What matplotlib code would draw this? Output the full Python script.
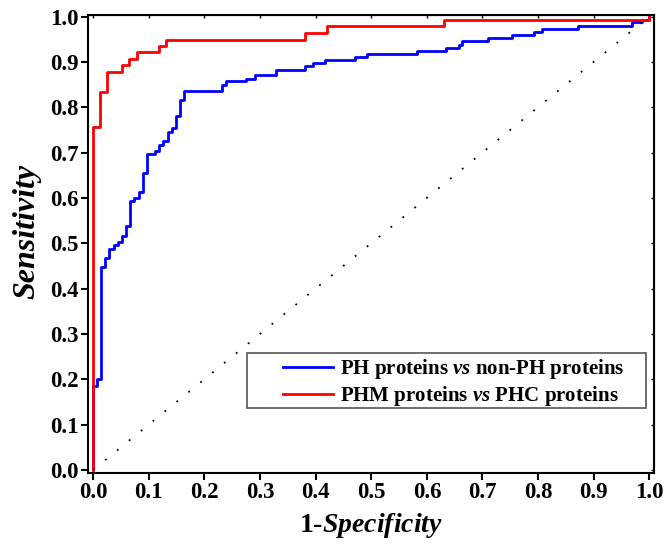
# -*- coding: utf-8 -*-
"""
ROC curves: PH vs non-PH, PHM vs PHC
"""
import matplotlib
matplotlib.use('Agg')
import matplotlib.pyplot as plt
from matplotlib.patches import Rectangle

plt.rcParams['font.family'] = 'Liberation Serif'
plt.rcParams['font.weight'] = 'bold'
plt.rcParams['mathtext.fontset'] = 'custom'
plt.rcParams['mathtext.rm'] = 'Liberation Serif:bold'
plt.rcParams['mathtext.bfit'] = 'Liberation Serif:italic:bold'

#################### data (corners of the step curves)
fpr_ph = [0, 0, 0.006, 0.014, 0.021, 0.029, 0.037, 0.045, 0.052, 0.059, 0.066,
          0.074, 0.082, 0.089, 0.096, 0.111, 0.119, 0.126, 0.134, 0.141, 0.149,
          0.156, 0.164, 0.231, 0.238, 0.275, 0.291, 0.328, 0.381, 0.396, 0.417,
          0.471, 0.492, 0.582, 0.634, 0.658, 0.664, 0.709, 0.753, 0.792, 0.807,
          0.872, 0.969, 0.986, 1.0]
tpr_ph = [0.007, 0.185, 0.200, 0.448, 0.468, 0.488, 0.497, 0.503, 0.516, 0.537,
          0.593, 0.600, 0.613, 0.655, 0.696, 0.703, 0.716, 0.725, 0.745, 0.753,
          0.780, 0.815, 0.835, 0.848, 0.857, 0.863, 0.870, 0.883, 0.891, 0.898,
          0.903, 0.910, 0.918, 0.924, 0.931, 0.938, 0.945, 0.952, 0.960, 0.965,
          0.973, 0.980, 0.987, 0.993, 1.0]

fpr_phm = [0, 0, 0.013, 0.025, 0.052, 0.065, 0.078, 0.118, 0.131, 0.381, 0.421,
           0.631, 1.0]
tpr_phm = [0, 0.756, 0.833, 0.877, 0.892, 0.907, 0.921, 0.936, 0.949, 0.964,
           0.980, 0.993, 1.0]

ticks = [0.0, 0.1, 0.2, 0.3, 0.4, 0.5, 0.6, 0.7, 0.8, 0.9, 1.0]
labels = ['PH proteins $\\mathbfit{vs}$ non-PH proteins',
          'PHM proteins $\\mathbfit{vs}$ PHC proteins']

#################### plot
fig = plt.figure(figsize=(6.64, 5.44), dpi=100)
ax = fig.add_axes([0.1325, 0.1305, 0.8525, 0.8425])

ax.plot(fpr_ph, tpr_ph, drawstyle='steps-post', color='#0000ff', lw=2,
        label=labels[0])
ax.plot(fpr_phm, tpr_phm, drawstyle='steps-post', color='#ff0000', lw=2,
        label=labels[1])
ax.plot([0, 1], [0, 1], color='black', lw=1.3, linestyle=(0, (1, 7.5)))

ax.set_xlim(-0.0095, 1.0085)
ax.set_ylim(-0.007, 1.004)
ax.set_xticks(ticks)
ax.set_yticks(ticks)
ax.set_xticklabels(['%.1f' % t for t in ticks])
ax.set_yticklabels(['%.1f' % t for t in ticks])
ax.tick_params(direction='out', length=5, width=1.5, labelsize=16.5, pad=1.5)

for s in ax.spines.values():
    s.set_linewidth(1.5)

# little inner ticks on top and right
top = ax.secondary_xaxis('top')
top.set_xticks(ticks)
top.tick_params(direction='in', length=2.5, width=1, labeltop=False)
right = ax.secondary_yaxis('right')
right.set_yticks(ticks)
right.tick_params(direction='in', length=2.5, width=1, labelright=False)

ax.set_xlabel('1-$\\mathbfit{Specificity}$', fontsize=20, fontweight='bold')
ax.xaxis.set_label_coords(0.5, -0.083)
ax.set_ylabel('Sensitivity', fontsize=23, fontstyle='italic',
              fontweight='bold')
ax.yaxis.set_label_coords(-0.083, 0.526)

# legend box drawn by hand, entries placed inside it
ax.add_patch(Rectangle((0.281, 0.142), 0.705, 0.12, transform=ax.transAxes,
                       fill=False, edgecolor='#555555', lw=1.2, zorder=5))
ax.legend(loc='center left', bbox_to_anchor=(0.3445, 0.197), frameon=False,
          borderpad=0, borderaxespad=0, handlelength=2.4, handletextpad=0.35,
          labelspacing=0.15, prop={'size': 15, 'weight': 'bold'})

plt.savefig('out.png', dpi=100)
